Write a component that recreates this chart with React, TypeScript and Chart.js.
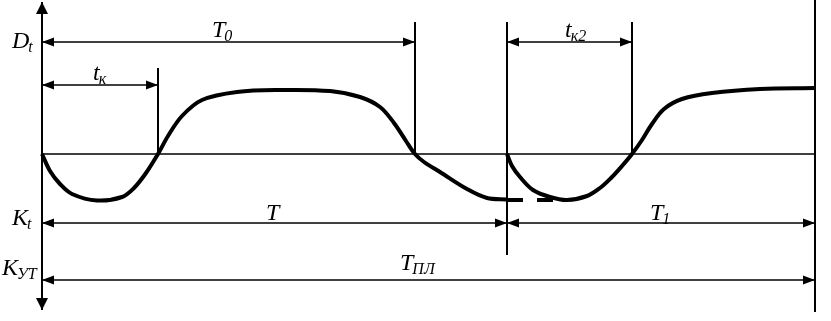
import React, { useEffect, useRef } from "react";
import { Chart, registerables } from "chart.js";

Chart.register(...registerables);

// Time (x) and deviation (y) units; baseline y = 0, axis x = 0
const curve1X = [0, 8, 18, 30, 55, 80, 92, 104, 116, 126, 140, 160, 195, 238, 288, 318, 338, 352, 364, 373, 382, 398, 425, 445, 465];
const curve1Y = [0, -17, -30, -40, -46.5, -43, -34, -19, 0, 18, 38, 54, 62, 64, 63, 57, 47, 31, 13, 0, -8, -18, -35, -44, -45.5];
const curve2X = [465, 470, 478, 491, 508, 525, 545, 558, 569, 580, 590, 600, 610, 622, 640, 670, 718, 773];
const curve2Y = [0, -12, -23, -36, -43, -46, -42, -34, -24, -12, 0, 14, 30, 45, 55, 61, 65, 66];
const gapX = [465, 511];
const gapY = [-46, -46];

// Markers
const tK = 116;
const T0 = 373;
const T = 465;
const tK2End = 590;
const TPL = 773;

// Vertical guide lines: x, top, bottom
const guideX = [tK, T0, T, tK2End, TPL];
const guideTop = [86, 132, 132, 132, 154];
const guideBottom = [0, 0, -101, 0, -158];

// Dimension lines: from, to, level
const dimFrom = [0, 0, T, 0, T, 0];
const dimTo = [T0, tK, tK2End, T, TPL, TPL];
const dimLevel = [112, 69, 112, -69, -69, -126];

// Labels
const labelMain = ["D", "K", "K", "T", "t", "t", "T", "T", "T"];
const labelSub = ["t", "t", "УТ", "0", "к", "к2", "", "1", "ПЛ"];
const labelX = [-30, -30, -40, 170, 51, 523, 224, 608, 358];
const labelY = [106, -71, -121, 117, 74, 117, -66, -66, -116];

const axisTop = 152;
const axisBottom = -156;

export default function App() {
  const ref = useRef<HTMLCanvasElement | null>(null);
  useEffect(() => {
    document.body.style.margin = "0";
    const canvas = ref.current;
    if (!canvas) return;
    const black = "#000";
    const thin = 1.6;
    const datasets: any[] = [];
    datasets.push({
      data: curve1X.map((x, i) => ({ x, y: curve1Y[i] })),
      borderColor: black, borderWidth: 4, tension: 0.35, pointRadius: 0, showLine: true,
    });
    datasets.push({
      data: curve2X.map((x, i) => ({ x, y: curve2Y[i] })),
      borderColor: black, borderWidth: 4, tension: 0.35, pointRadius: 0, showLine: true,
    });
    datasets.push({
      data: gapX.map((x, i) => ({ x, y: gapY[i] })),
      borderColor: black, borderWidth: 4, borderDash: [16, 14], pointRadius: 0, showLine: true,
    });
    // baseline
    datasets.push({
      data: [{ x: 0, y: 0 }, { x: TPL, y: 0 }],
      borderColor: black, borderWidth: thin, pointRadius: 0, showLine: true,
    });
    // axis
    datasets.push({
      data: [{ x: 0, y: axisTop }, { x: 0, y: axisBottom }],
      borderColor: black, borderWidth: 2, pointRadius: 0, showLine: true,
    });
    guideX.forEach((gx, i) => {
      datasets.push({
        data: [{ x: gx, y: guideTop[i] }, { x: gx, y: guideBottom[i] }],
        borderColor: black, borderWidth: 2, pointRadius: 0, showLine: true,
      });
    });
    dimFrom.forEach((f, i) => {
      datasets.push({
        data: [{ x: f, y: dimLevel[i] }, { x: dimTo[i], y: dimLevel[i] }],
        borderColor: black, borderWidth: thin, pointRadius: 0, showLine: true,
      });
    });

    const decor = {
      id: "decor",
      afterDatasetsDraw(chart: any) {
        const ctx = chart.ctx as CanvasRenderingContext2D;
        const xs = chart.scales.x;
        const ys = chart.scales.y;
        ctx.save();
        ctx.fillStyle = black;
        const tri = (tx: number, ty: number, dir: string, len: number, half: number) => {
          ctx.beginPath();
          ctx.moveTo(tx, ty);
          if (dir === "left") { ctx.lineTo(tx + len, ty - half); ctx.lineTo(tx + len, ty + half); }
          if (dir === "right") { ctx.lineTo(tx - len, ty - half); ctx.lineTo(tx - len, ty + half); }
          if (dir === "up") { ctx.lineTo(tx - half, ty + len); ctx.lineTo(tx + half, ty + len); }
          if (dir === "down") { ctx.lineTo(tx - half, ty - len); ctx.lineTo(tx + half, ty - len); }
          ctx.closePath();
          ctx.fill();
        };
        const ax = xs.getPixelForValue(0);
        tri(ax, ys.getPixelForValue(axisTop), "up", 12, 6);
        tri(ax, ys.getPixelForValue(axisBottom), "down", 12, 6);
        dimFrom.forEach((f, i) => {
          const py = ys.getPixelForValue(dimLevel[i]);
          tri(xs.getPixelForValue(f), py, "left", 12, 4.5);
          tri(xs.getPixelForValue(dimTo[i]), py, "right", 12, 4.5);
        });
        ctx.textBaseline = "alphabetic";
        labelMain.forEach((m, i) => {
          const px = xs.getPixelForValue(labelX[i]);
          const py = ys.getPixelForValue(labelY[i]);
          ctx.font = "italic 24px 'Liberation Serif', serif";
          ctx.fillText(m, px, py);
          const w = ctx.measureText(m).width;
          if (labelSub[i]) {
            ctx.font = "italic 16px 'Liberation Serif', serif";
            ctx.fillText(labelSub[i], px + w - 1, py + 4);
          }
        });
        ctx.restore();
      },
    };

    const chart = new Chart(canvas, {
      type: "scatter",
      data: { datasets },
      options: {
        animation: false,
        responsive: false,
        layout: { padding: 0 },
        plugins: { legend: { display: false }, tooltip: { enabled: false } },
        scales: {
          x: { type: "linear", min: -42, max: 789, display: false },
          y: { type: "linear", min: -167, max: 154, display: false },
        },
      },
      plugins: [decor],
    });
    return () => chart.destroy();
  }, []);
  return (
    <div style={{ position: "absolute", left: 0, top: 0, width: 831, height: 321, background: "#fff" }}>
      <canvas ref={ref} width={831} height={321} />
    </div>
  );
}
